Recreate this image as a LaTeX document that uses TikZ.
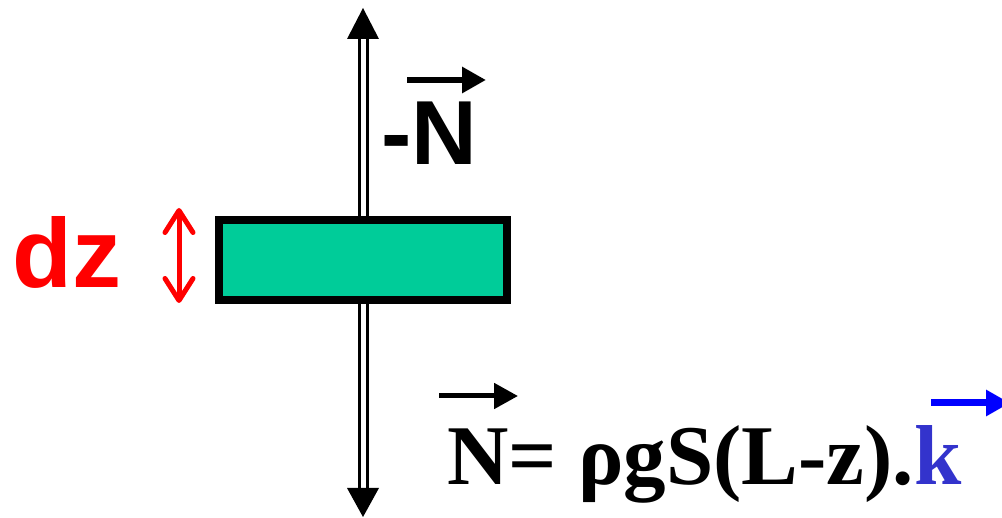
\documentclass[tikz,border=0pt]{standalone}
\usepackage{fontspec}
\usetikzlibrary{arrows.meta}
\newfontfamily\arialf{Liberation Sans}
\newfontfamily\timesf{Liberation Serif}
\definecolor{blockgreen}{HTML}{00CC99}
\definecolor{kblue}{HTML}{3333CC}
\definecolor{vblue}{HTML}{0000FF}
\tikzset{
  sanslbl/.style={inner sep=0pt, anchor=base west, font=\arialf\bfseries\fontsize{95}{100}\selectfont},
  formula/.style={inner sep=0pt, anchor=base west, font=\timesf\bfseries\fontsize{85}{90}\selectfont},
  rod/.style={line width=3pt, double=white, double distance=5pt},
  block/.style={draw=black, line width=8pt, fill=blockgreen, minimum width=288pt, minimum height=80pt, inner sep=0pt},
  vecarrow/.style={line width=6pt, -{Triangle[length=24pt 0 0,width=25pt 0 0]}},
  dzarrow/.style={red, line width=5pt, {Straight Barb[length=22pt 0 0,width=28pt 0 0,round]}-{Straight Barb[length=22pt 0 0,width=28pt 0 0,round]}}
}
\begin{document}
\begin{tikzpicture}[x=1pt,y=-1pt]
\useasboundingbox (0,0) rectangle (1002,518);
% rod
\coordinate (toptip) at (363,8);
\coordinate (topbase) at (363,39);
\coordinate (bottip) at (363,517);
\coordinate (botbase) at (363,488);
\draw[rod] (topbase) -- (botbase);
\fill (toptip) -- ([xshift=-16pt]topbase) -- ([xshift=16pt]topbase) -- cycle;
\fill (bottip) -- ([xshift=-16pt]botbase) -- ([xshift=16pt]botbase) -- cycle;
% block
\node[block] (blk) at (363,260) {};
% dz
\node[sanslbl, text=red, font=\arialf\bfseries\fontsize{98}{100}\selectfont] (dz) at (12,288) {dz};
\coordinate (dzt) at (179,208);
\coordinate (dzb) at (179,303);
\draw[dzarrow] (dzt) -- (dzb);
% -N
\node[sanslbl, font=\arialf\bfseries\fontsize{91}{100}\selectfont] (mN) at (381,165) {-N};
\coordinate (mNa) at (407,80);
\coordinate (mNb) at (486,80);
\draw[vecarrow] (mNa) -- (mNb);
% formula
\node[formula] (eq) at (447,485) {N= ρgS(L-z).\textcolor{kblue}{k}};
\coordinate (Na) at (439,396);
\coordinate (Nb) at (518,396);
\draw[vecarrow, line width=5pt] (Na) -- (Nb);
\coordinate (ka) at (931,403);
\coordinate (kb) at (1010,403);
\draw[vecarrow, vblue, line width=7pt] (ka) -- (kb);
\end{tikzpicture}
\end{document}
